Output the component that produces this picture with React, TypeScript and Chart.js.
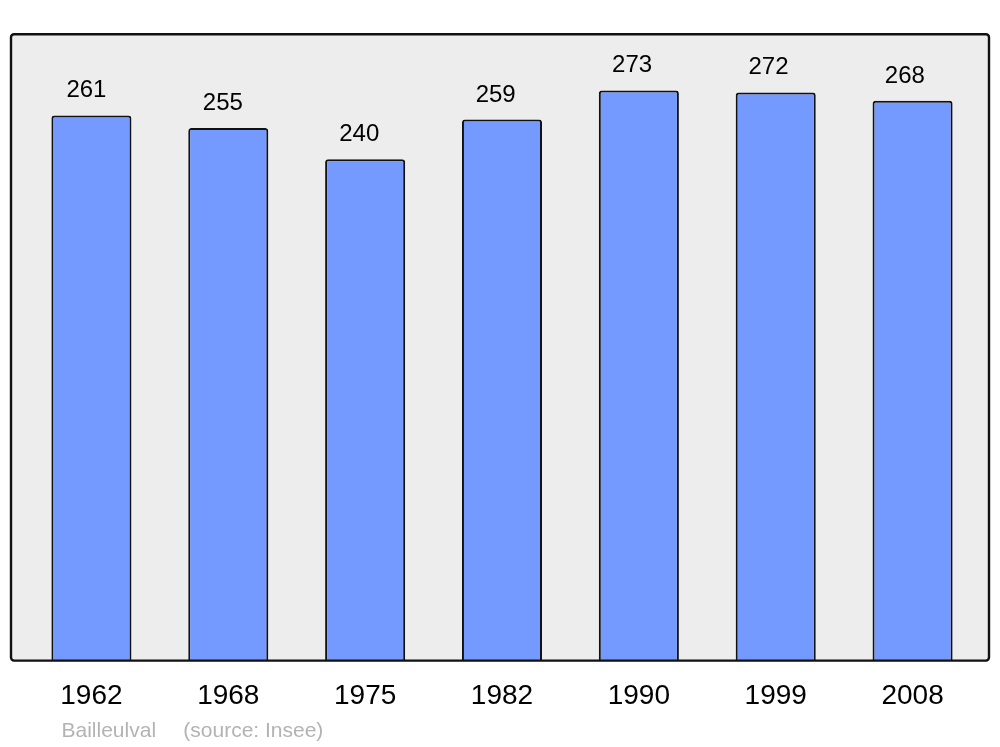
import { useEffect, useRef } from "react";
import { Chart, registerables } from "chart.js";

Chart.register(...registerables);

const years = ["1962", "1968", "1975", "1982", "1990", "1999", "2008"];
const population = [261, 255, 240, 259, 273, 272, 268];
const yRange = [0, 300];
const footerName = "Bailleulval";
const footerSource = "(source: Insee)";

const FONT = '"Liberation Sans", Arial, Helvetica, sans-serif';

const framePlugin = {
  id: "frame",
  beforeDatasetsDraw(chart: any) {
    const { ctx, chartArea } = chart;
    const x = chartArea.left - 12;
    const y = chartArea.top + 0.3;
    const w = chartArea.right + 8 - x;
    const h = chartArea.bottom + 0.2 - y;
    ctx.save();
    ctx.beginPath();
    ctx.roundRect(x, y, w, h, 3);
    ctx.fillStyle = "#ededed";
    ctx.fill();
    ctx.restore();
  },
  afterDatasetsDraw(chart: any) {
    const { ctx, chartArea } = chart;
    const x = chartArea.left - 12;
    const y = chartArea.top + 0.3;
    const w = chartArea.right + 8 - x;
    const h = chartArea.bottom + 0.2 - y;
    ctx.save();
    ctx.beginPath();
    ctx.roundRect(x, y, w, h, 3);
    ctx.lineWidth = 2.4;
    ctx.strokeStyle = "#111111";
    ctx.stroke();

    // value labels
    const meta = chart.getDatasetMeta(0);
    ctx.fillStyle = "#000000";
    ctx.font = `24px ${FONT}`;
    ctx.textAlign = "center";
    ctx.textBaseline = "alphabetic";
    meta.data.forEach((bar: any, i: number) => {
      const v = chart.data.datasets[0].data[i];
      ctx.fillText(String(v), bar.x - 5 - i * 0.45, bar.y - 18);
    });

    // footer
    ctx.fillStyle = "#b3b3b3";
    ctx.font = `21px ${FONT}`;
    ctx.textAlign = "left";
    ctx.fillText(footerName, 61.5, 737);
    ctx.fillText(footerSource, 183.3, 737);
    ctx.restore();
  },
};

export default function App() {
  const ref = useRef<HTMLCanvasElement | null>(null);

  useEffect(() => {
    document.body.style.margin = "0";
    const canvas = ref.current;
    if (!canvas) return;
    const chart = new Chart(canvas, {
      type: "bar",
      data: {
        labels: years,
        datasets: [
          {
            data: population,
            backgroundColor: "#7499ff",
            borderColor: "#111111",
            borderWidth: 2,
            borderRadius: 3,
            barPercentage: 0.585,
            categoryPercentage: 1,
          },
        ],
      },
      options: {
        responsive: false,
        animation: false,
        devicePixelRatio: 1,
        layout: {
          padding: { left: 23, right: 19, top: 34, bottom: 23 },
        },
        plugins: {
          legend: { display: false },
          tooltip: { enabled: false },
          title: { display: false },
        },
        scales: {
          x: {
            grid: { display: false },
            border: { display: false },
            ticks: {
              color: "#000000",
              font: { size: 28, family: FONT },
              padding: 11,
              maxRotation: 0,
            },
          },
          y: {
            display: false,
            min: yRange[0],
            max: yRange[1],
          },
        },
      },
      plugins: [framePlugin],
    });
    return () => chart.destroy();
  }, []);

  return (
    <div style={{ width: 1000, height: 747, background: "#ffffff" }}>
      <canvas ref={ref} width={1000} height={747} style={{ display: "block" }} />
    </div>
  );
}
